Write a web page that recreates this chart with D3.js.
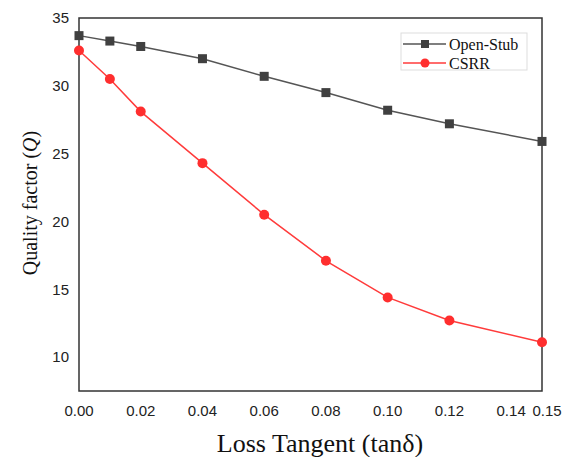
<!DOCTYPE html>
<html>
<head>
<meta charset="utf-8">
<script src="https://cdn.jsdelivr.net/npm/d3@7"></script>
<style>
  body { margin: 0; background: #fff; }
</style>
</head>
<body>
<div id="chart"></div>
<script>
var width = 566;
var height = 457;

// data
var tanD = [0.00, 0.01, 0.02, 0.04, 0.06, 0.08, 0.10, 0.12, 0.15];
var openStub = [33.7, 33.3, 32.9, 32.0, 30.7, 29.5, 28.2, 27.2, 25.9];
var csrr = [32.6, 30.5, 28.1, 24.3, 20.5, 17.1, 14.4, 12.7, 11.1];
var xTicks = [0, 0.02, 0.04, 0.06, 0.08, 0.10, 0.12, 0.14, 0.15];
var yTicks = [10, 15, 20, 25, 30, 35];

var plotL = 79, plotR = 542, plotT = 18, plotB = 391;

var x = d3.scaleLinear().domain([0, 0.15]).range([plotL, plotR]);
var y = d3.scaleLinear().domain([7.5, 35]).range([plotB, plotT]);

var svg = d3.select("#chart").append("svg")
          .attr("width", width)
          .attr("height", height);

// frame
svg.append("rect")
   .attr("x", plotL).attr("y", plotT)
   .attr("width", plotR - plotL).attr("height", plotB - plotT)
   .attr("fill", "none").attr("stroke", "#333").attr("stroke-width", 1.5);

// tick labels
svg.selectAll(".ytick").data(yTicks).enter().append("text")
   .attr("x", plotL - 10)
   .attr("y", function(d){ return y(d); })
   .attr("dy", "0.35em")
   .attr("text-anchor", "end")
   .style("font-family", "Liberation Sans, Arial, sans-serif")
   .style("font-size", "15px")
   .attr("fill", "#222")
   .text(function(d){ return d; });

svg.selectAll(".xtick").data(xTicks).enter().append("text")
   .attr("x", function(d){ return d === 0.15 ? x(d) + 5 : x(d); })
   .attr("y", plotB + 20)
   .attr("dy", "0.35em")
   .attr("text-anchor", "middle")
   .style("font-family", "Liberation Sans, Arial, sans-serif")
   .style("font-size", "15px")
   .attr("fill", "#222")
   .text(function(d){ return d.toFixed(2); });

// axis titles
svg.append("text")
   .attr("x", 320)
   .attr("y", 452)
   .attr("text-anchor", "middle")
   .style("font-family", "Liberation Serif, Times New Roman, serif")
   .style("font-size", "26px")
   .attr("fill", "#111")
   .text("Loss Tangent (tanδ)");

var yt = svg.append("text")
   .attr("transform", "translate(37,203) rotate(-90)")
   .attr("text-anchor", "middle")
   .style("font-family", "Liberation Serif, Times New Roman, serif")
   .style("font-size", "20px")
   .attr("fill", "#111");
yt.append("tspan").text("Quality factor (");
yt.append("tspan").style("font-style", "italic").text("Q");
yt.append("tspan").text(")");

var line = d3.line()
   .x(function(d, i){ return x(tanD[i]); })
   .y(function(d){ return y(d); });

// Open-Stub
svg.append("path").datum(openStub)
   .attr("d", line).attr("fill", "none")
   .attr("stroke", "#555").attr("stroke-width", 1.5);
svg.selectAll(".sq").data(openStub).enter().append("rect")
   .attr("x", function(d, i){ return x(tanD[i]) - 4.5; })
   .attr("y", function(d){ return y(d) - 4.5; })
   .attr("width", 9).attr("height", 9)
   .attr("fill", "#404040");

// CSRR
svg.append("path").datum(csrr)
   .attr("d", line).attr("fill", "none")
   .attr("stroke", "#ff3b3b").attr("stroke-width", 1.5);
svg.selectAll(".dot").data(csrr).enter().append("circle")
   .attr("cx", function(d, i){ return x(tanD[i]); })
   .attr("cy", function(d){ return y(d); })
   .attr("r", 5)
   .attr("fill", "#ff2e2e");

// legend
var lg = svg.append("g").attr("transform", "translate(401,33)");
lg.append("rect").attr("width", 126).attr("height", 37)
  .attr("fill", "#fff").attr("stroke", "#ddd");
lg.append("line").attr("x1", 2).attr("x2", 45).attr("y1", 11).attr("y2", 11)
  .attr("stroke", "#555").attr("stroke-width", 1.5);
lg.append("rect").attr("x", 20).attr("y", 7).attr("width", 8).attr("height", 8)
  .attr("fill", "#404040");
lg.append("line").attr("x1", 2).attr("x2", 45).attr("y1", 30).attr("y2", 30)
  .attr("stroke", "#ff3b3b").attr("stroke-width", 1.5);
lg.append("circle").attr("cx", 24).attr("cy", 30).attr("r", 4.5)
  .attr("fill", "#ff2e2e");
lg.selectAll(".lt").data(["Open-Stub", "CSRR"]).enter().append("text")
  .attr("x", 48)
  .attr("y", function(d, i){ return 11 + i * 19; })
  .attr("dy", "0.35em")
  .style("font-family", "Liberation Serif, Times New Roman, serif")
  .style("font-size", "16px")
  .attr("fill", "#111")
  .text(function(d){ return d; });
</script>
</body>
</html>
